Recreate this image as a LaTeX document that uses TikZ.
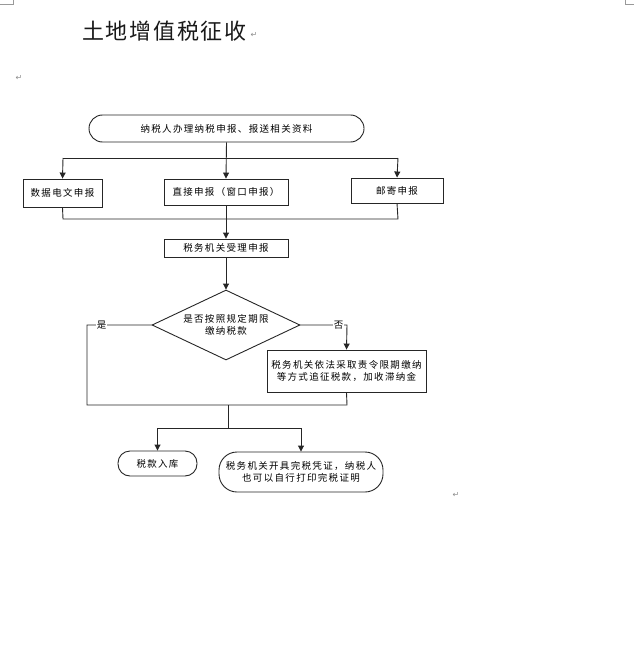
\documentclass[tikz,border=0pt]{standalone}
\usepackage{fontspec}
\usetikzlibrary{arrows.meta,shapes.geometric}
\newfontfamily\cjk[LetterSpace=14]{Noto Sans CJK SC}
\newfontfamily\cjktitle[LetterSpace=8]{Noto Sans CJK SC}
\newfontfamily\symf{DejaVu Sans}
\tikzset{
  x=1pt,y=-1pt,
  line/.style={draw=black!85,line width=0.9pt},
  arr/.style={line,-{Triangle[length=6pt,width=6pt]}},
  box/.style={draw=black!85,line width=0.9pt,rectangle,inner sep=0pt,font=\cjk\fontsize{9.5}{12.5}\selectfont,align=center,text=black},
  rbox/.style={box,rounded corners=12pt},
  lab/.style={fill=white,inner sep=0.5pt,font=\cjk\fontsize{9.5}{12}\selectfont},
  retmark/.style={text=black!45,font=\symf\fontsize{8}{8}\selectfont,inner sep=0pt},
}
\begin{document}
\begin{tikzpicture}
\useasboundingbox (0,0) rectangle (634,666);
% page corner marks
\draw[black!40,line width=0.6pt] (0,4) -- (13,4) -- (13,0);
\draw[black!40,line width=0.6pt] (625,0) -- (625,4) -- (634,4);
% title
\node[anchor=west,inner sep=0pt,text=black!90,font=\cjktitle\fontsize{22}{24}\selectfont] (title) at (82,31) {土地增值税征收};
\node[retmark] (m1) at (254,35) {↵};
\node[retmark] (m2) at (19,78) {↵};
\node[retmark] (m3) at (456,495) {↵};
% nodes
\node[box,rounded corners=13.5pt,minimum width=275pt,minimum height=27pt] (start) at (226.5,128.5) {纳税人办理纳税申报、报送相关资料};
\node[box,minimum width=79pt,minimum height=28pt] (b1) at (62.5,193) {数据电文申报};
\node[box,minimum width=124pt,minimum height=26pt] (b2) at (226,192) {直接申报（窗口申报）};
\node[box,minimum width=92pt,minimum height=25pt] (b3) at (397,190.5) {邮寄申报};
\node[box,minimum width=124pt,minimum height=18pt] (acc) at (226,248) {税务机关受理申报};
\node[box,diamond,aspect=2.11,minimum width=148pt,minimum height=70pt] (dia) at (226,325) {是否按照规定期限\\缴纳税款};
\node[box,minimum width=159pt,minimum height=42pt] (fix) at (346.5,371) {税务机关依法采取责令限期缴纳\\等方式追征税款，加收滞纳金};
\node[rbox,minimum width=79pt,minimum height=25pt] (ruku) at (157.5,463.5) {税款入库};
\node[box,rounded corners=18pt,minimum width=164pt,minimum height=40pt] (cert) at (301,472) {税务机关开具完税凭证，纳税人\\也可以自行打印完税证明};
% coordinates
\coordinate (s1) at (63,158);
\coordinate (s3) at (398,158);
\coordinate (j1) at (63,219);
\coordinate (j3) at (398,219);
\coordinate (yl) at (87,325);
\coordinate (yb) at (87,405);
\coordinate (nr) at (347,325);
\coordinate (nb) at (347,405);
\coordinate (m) at (228,405);
\coordinate (mb) at (228,428);
\coordinate (t1) at (157.5,428);
\coordinate (t2) at (301,428);
% connectors
\draw[arr] (start.south) -- (b2.north);
\draw[line] (s1) -- (s3);
\draw[arr] (s1) -- (b1.north);
\draw[arr] (s3) -- (b3.north);
\draw[line] (b1.south) -- (j1) -- (j3) -- (b3.south);
\draw[arr] (b2.south) -- (acc.north);
\draw[arr] (acc.south) -- (dia.north);
\draw[line] (dia.west) -- (yl) -- (yb) -- (nb) -- (fix.south);
\draw[arr] (dia.east) -- (nr) -- (fix.north);
\draw[line] (m) -- (mb);
\draw[line] (t1) -- (t2);
\draw[arr] (t1) -- (ruku.north);
\draw[arr] (t2) -- (cert.north);
% labels
\node[lab] (yes) at (101.5,325) {是};
\node[lab] (no) at (338.5,325) {否};
\end{tikzpicture}
\end{document}
